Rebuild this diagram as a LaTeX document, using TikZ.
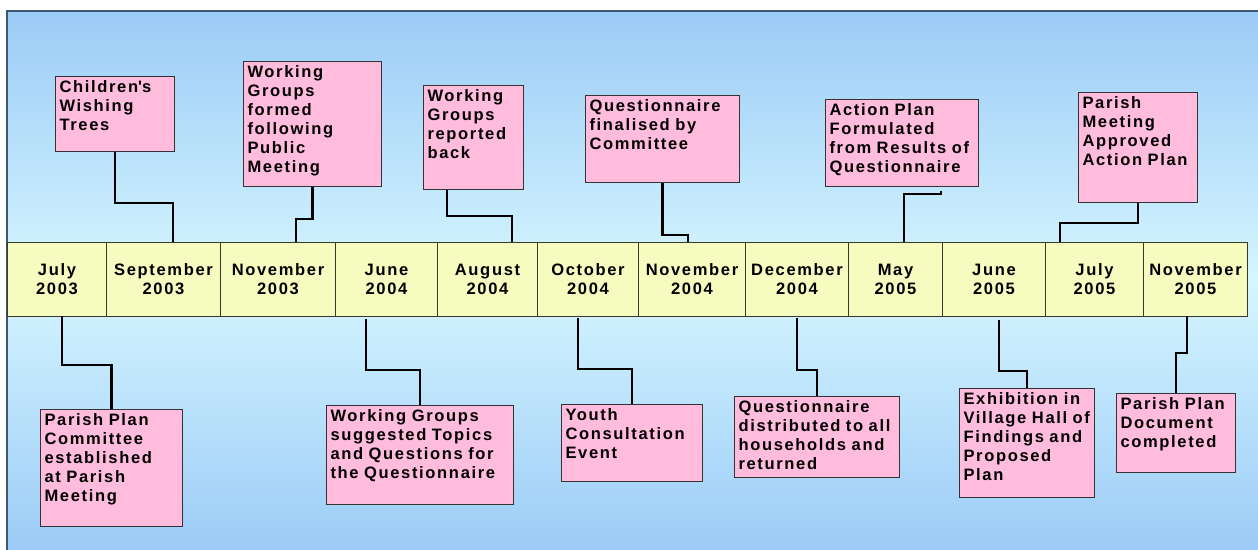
\documentclass[tikz,border=0pt]{standalone}
\usepackage{fontspec}
\setmainfont{Liberation Sans}[LetterSpace=10]
\definecolor{bgtop}{HTML}{9BCBF6}
\definecolor{bgmid}{HTML}{D6F6FF}
\definecolor{bgborder}{HTML}{3E5670}
\definecolor{boxpink}{HTML}{FFBCDC}
\definecolor{boxline}{HTML}{333333}
\definecolor{cellyellow}{HTML}{F6FCC0}
\definecolor{cellline}{HTML}{3A3A2A}
\def\px{*0.75pt}
\newcommand\evtfont{\bfseries\fontsize{12.4pt}{14.25pt}\selectfont\hyphenpenalty=10000 \exhyphenpenalty=10000 }
\tikzset{
  evt/.style={draw=boxline, fill=boxpink, line width=1\px, anchor=north west,
    inner xsep=4\px, inner ysep=4\px, text height=12\px, align=left, font=\evtfont},
  cell/.style={draw=cellline, fill=cellyellow, line width=1\px, anchor=north west,
    minimum height=74\px, inner sep=0pt, align=center, font=\evtfont},
  conn/.style={draw=black, line width=2.5\px, line join=miter}
}
\newcommand\evt[6]{%
  \pgfmathsetmacro\evtw{#4-8}\pgfmathsetmacro\evtd{#5-20}%
  \node[evt, text width=\evtw\px, text depth=\evtd\px] (#1) at (#2,#3) {#6};}
\begin{document}
\begin{tikzpicture}[x=0.75pt, y=-0.75pt]
\useasboundingbox (0,0) rectangle (1258,550);
\fill[white] (0,0) rectangle (1258,550);
\shade[top color=bgtop, bottom color=bgtop, middle color=bgmid] (7,11) rectangle (1258,550);
\draw[bgborder, line width=1.5\px] (7,550) -- (7,11) -- (1258,11);

% timeline cells
\node[cell, minimum width=99\px]  (c1)  at (7,242)    {July\\2003};
\node[cell, minimum width=114\px] (c2)  at (106,242)  {September\\2003};
\node[cell, minimum width=115\px] (c3)  at (220,242)  {November\\2003};
\node[cell, minimum width=102\px] (c4)  at (335,242)  {June\\2004};
\node[cell, minimum width=100\px] (c5)  at (437,242)  {August\\2004};
\node[cell, minimum width=101\px] (c6)  at (537,242)  {October\\2004};
\node[cell, minimum width=107\px] (c7)  at (638,242)  {November\\2004};
\node[cell, minimum width=103\px] (c8)  at (745,242)  {December\\2004};
\node[cell, minimum width=94\px]  (c9)  at (848,242)  {May\\2005};
\node[cell, minimum width=103\px] (c10) at (942,242)  {June\\2005};
\node[cell, minimum width=98\px]  (c11) at (1045,242) {July\\2005};
\node[cell, minimum width=104\px] (c12) at (1143,242) {November\\2005};

% events above
\evt{t1}{55}{76}{119}{75}{Children\textquotesingle s\\Wishing\\Trees}
\evt{t2}{243}{61}{138}{125}{Working\\Groups\\formed\\following\\Public\\Meeting}
\evt{t3}{423}{85}{100}{104}{Working\\Groups\\reported\\back}
\evt{t4}{585}{95}{154}{87}{Questionnaire\\finalised~by\\Committee}
\evt{t5}{825}{99}{153}{87}{Action~Plan\\Formulated\\from~Results~of\\Questionnaire}
\evt{t6}{1078}{92}{119}{110}{Parish\\Meeting\\Approved\\Action~Plan}

% events below
\evt{b1}{40}{409}{142}{117}{Parish~Plan\\Committee\\established\\at~Parish\\Meeting}
\evt{b2}{326}{405}{187}{99}{Working~Groups\\suggested~Topics\\and~Questions~for\\the~Questionnaire}
\evt{b3}{561}{404}{141}{77}{Youth\\Consultation\\Event}
\evt{b4}{734}{396}{165}{81}{Questionnaire\\distributed~to~all\\households~and\\returned}
\evt{b5}{959}{388}{135}{109}{Exhibition~in\\Village~Hall~of\\Findings~and\\Proposed\\Plan}
\evt{b6}{1116}{393}{119}{79}{Parish~Plan\\Document\\completed}

% connector end points on the timeline
\coordinate (k1) at (173,242);
\coordinate (k2) at (296,242);
\coordinate (k3) at (512,242);
\coordinate (k4) at (688,242);
\coordinate (k5) at (904,242);
\coordinate (k6) at (1060,242);
\coordinate (m1) at (62,316);
\coordinate (m2) at (366,319);
\coordinate (m3) at (578,318);
\coordinate (m4) at (797,318);
\coordinate (m5) at (999,320);
\coordinate (m6) at (1187,316);

\draw[conn] (t1.south) -- ++(0,51) -| (k1);
\draw[conn] (t2.south) -- ++(0,32) -| (k2);
\draw[conn] ([xshift=24\px]t3.south west) -- ++(0,26) -| (k3);
\draw[conn] (t4.south) -- ++(0,52) -| (k4);
\draw[conn] ([xshift=116\px, yshift=-4\px]t5.south west) -- ++(0,3) -| (k5);
\draw[conn] (t6.south) -- ++(0,20) -| (k6);

\draw[conn] (m1) -- ++(0,49) -| (b1.north);
\draw[conn] (m2) -- ++(0,51) -| (b2.north);
\draw[conn] (m3) -- ++(0,51) -| (b3.north);
\draw[conn] (m4) -- ++(0,52) -| (b4.north);
\draw[conn] (m5) -- ++(0,51) -| (b5.north);
\draw[conn] (m6) -- ++(0,37) -| (b6.north);
\end{tikzpicture}
\end{document}
